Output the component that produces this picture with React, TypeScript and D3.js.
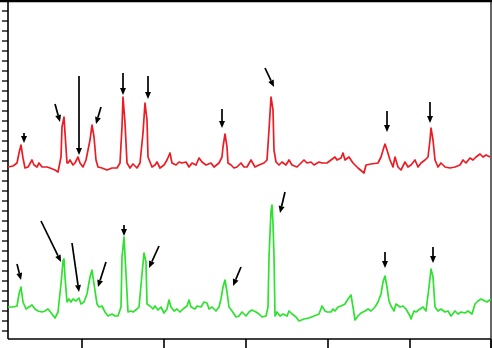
import React from "react";
import * as d3 from "d3";

// channel (x) vs intensity (y)
const redSeries: [number, number][] = [
  [0,164],[5,165],[9,168],[11,178],[13,186],[15,173],[17,163],[20,164],[24,171],[26,166],[29,164],[31,168],[34,164],[39,164],[42,163],[47,161],[50,159],[53,174],[54,204],[56,214],[57,198],[59,168],[60,168],[62,171],[65,166],[67,168],[70,174],[72,168],[75,164],[78,171],[82,191],[84,206],[86,194],[88,171],[90,164],[94,163],[99,161],[104,163],[109,163],[112,168],[114,204],[115,234],[117,208],[119,168],[122,163],[125,167],[129,163],[132,168],[135,198],[137,228],[139,211],[140,174],[144,164],[147,166],[149,169],[152,163],[156,166],[159,171],[162,178],[164,168],[168,166],[171,169],[174,168],[178,169],[181,164],[184,168],[188,166],[191,173],[194,169],[198,166],[203,168],[206,164],[211,168],[214,174],[215,184],[217,197],[219,184],[220,168],[223,166],[226,163],[229,164],[233,168],[236,164],[239,164],[243,171],[247,164],[251,166],[256,168],[259,171],[261,201],[263,234],[265,221],[266,181],[268,169],[271,166],[274,169],[278,166],[281,171],[284,166],[289,164],[293,168],[296,171],[299,168],[303,169],[306,166],[311,169],[314,168],[319,168],[323,171],[327,174],[329,171],[333,173],[335,178],[337,171],[341,174],[345,168],[350,163],[356,158],[358,166],[363,167],[370,168],[373,174],[376,184],[377,187],[379,181],[382,171],[385,164],[387,174],[390,164],[393,161],[397,169],[400,164],[403,166],[407,171],[410,164],[413,168],[417,171],[420,174],[422,191],[423,203],[425,191],[427,171],[430,164],[433,168],[437,164],[442,163],[447,164],[452,166],[455,171],[458,168],[462,173],[465,171],[468,174],[472,177],[475,174],[478,176],[482,174]
];

const greenSeries: [number, number][] = [
  [0,24],[5,24],[9,25],[11,37],[13,44],[15,29],[18,22],[21,24],[24,26],[27,22],[30,20],[34,19],[37,20],[40,22],[44,17],[47,13],[50,19],[53,47],[55,70],[56,72],[57,54],[59,29],[61,32],[63,29],[65,32],[68,30],[71,33],[73,27],[76,29],[79,37],[82,54],[84,61],[86,47],[89,27],[91,24],[94,25],[97,19],[100,15],[104,17],[107,15],[110,15],[113,24],[114,74],[116,94],[118,57],[120,19],[123,20],[125,19],[129,22],[131,24],[134,57],[136,78],[138,69],[139,27],[142,25],[145,22],[147,25],[150,21],[153,24],[156,18],[159,22],[161,31],[163,24],[166,20],[169,22],[172,19],[175,22],[179,25],[181,31],[183,24],[187,22],[189,25],[193,24],[196,29],[199,28],[201,22],[204,24],[208,20],[211,24],[213,32],[215,44],[217,51],[219,39],[221,24],[224,20],[228,14],[231,15],[234,19],[238,15],[241,19],[244,21],[248,19],[251,17],[254,14],[258,15],[260,24],[261,74],[263,120],[264,126],[265,107],[266,75],[267,15],[269,19],[272,15],[275,17],[279,15],[281,20],[284,17],[288,14],[291,10],[296,12],[301,13],[306,15],[311,17],[314,25],[317,20],[319,19],[323,19],[325,22],[327,20],[330,24],[333,25],[337,27],[340,32],[343,36],[345,24],[347,11],[350,15],[353,18],[357,20],[360,22],[363,20],[367,24],[370,29],[373,37],[375,49],[377,55],[379,44],[381,30],[383,25],[386,20],[388,27],[392,24],[395,25],[398,22],[402,15],[403,12],[406,20],[408,19],[412,22],[415,24],[418,20],[421,44],[423,62],[425,54],[427,24],[430,20],[433,22],[437,19],[440,20],[443,15],[447,20],[450,17],[453,19],[457,18],[460,20],[464,17],[467,27],[470,30],[473,32],[477,30],[479,29],[483,32]
];

// arrows: [xTail, yTail, xHead, yHead]
const redArrows: [number, number, number, number][] = [
  [16,198,16,188],[47,227,52,209],[71,255,71,176],[93,224,88,207],[115,258,115,236],
  [140,255,140,232],[214,222,214,203],[257,263,266,244],[379,220,379,199],[422,229,422,208]
];
const greenArrows: [number, number, number, number][] = [
  [9,67,13,51],[33,110,53,69],[64,88,71,39],[98,69,90,44],[116,106,116,95],
  [151,85,141,63],[233,64,225,45],[277,139,272,118],[377,79,377,63],[425,84,425,68]
];

const xTicks = [74, 156, 238, 320, 402, 483];
const yTicks = d3.range(0, 330, 10);

const W = 492, H = 348;
const left = 8, right = 491, top = 1, bottom = 339;

export default function App() {
  const x = d3.scaleLinear().domain([0, 483]).range([left, right]);
  const y = d3.scaleLinear().domain([-8, 330]).range([bottom, top]);
  const line = d3.line<[number, number]>().x(d => x(d[0])).y(d => y(d[1]));

  const arrow = (a: [number, number, number, number], i: number, key: string) => {
    const x1 = x(a[0]), y1 = y(a[1]), x2 = x(a[2]), y2 = y(a[3]);
    const ang = Math.atan2(y2 - y1, x2 - x1);
    const L = 7, Wd = 3;
    const bx = x2 - L * Math.cos(ang), by = y2 - L * Math.sin(ang);
    const px = -Math.sin(ang), py = Math.cos(ang);
    const pts = `${x2},${y2} ${bx + px * Wd},${by + py * Wd} ${bx - px * Wd},${by - py * Wd}`;
    return (
      <g key={key + i}>
        <line x1={x1} y1={y1} x2={bx} y2={by} stroke="#000" strokeWidth={1.7} />
        <polygon points={pts} fill="#000" />
      </g>
    );
  };

  return (
    <svg width={W} height={H} style={{ position: "absolute", left: 0, top: 0, background: "#fff" }}>
      <rect x={0} y={0} width={W} height={H} fill="#fff" />
      {/* frame */}
      <line x1={0} y1={top} x2={W} y2={top} stroke="#000" strokeWidth={2.5} />
      <line x1={right} y1={top} x2={right} y2={H} stroke="#000" strokeWidth={1.2} />
      <line x1={left} y1={0} x2={left} y2={bottom} stroke="#000" strokeWidth={1.6} />
      <line x1={left} y1={bottom} x2={right} y2={bottom} stroke="#000" strokeWidth={1.6} />
      {yTicks.map(t => (
        <line key={"yt" + t} x1={2} x2={left} y1={y(t)} y2={y(t)} stroke="#000" strokeWidth={1.3} />
      ))}
      {xTicks.map(t => (
        <line key={"xt" + t} x1={x(t)} x2={x(t)} y1={bottom} y2={H} stroke="#000" strokeWidth={1.6} />
      ))}
      <path d={line(redSeries) || ""} fill="none" stroke="#ec1c24" strokeWidth={1.7} strokeLinejoin="round" />
      <path d={line(greenSeries) || ""} fill="none" stroke="#2fe22f" strokeWidth={1.7} strokeLinejoin="round" />
      {redArrows.map((a, i) => arrow(a, i, "ra"))}
      {greenArrows.map((a, i) => arrow(a, i, "ga"))}
    </svg>
  );
}
